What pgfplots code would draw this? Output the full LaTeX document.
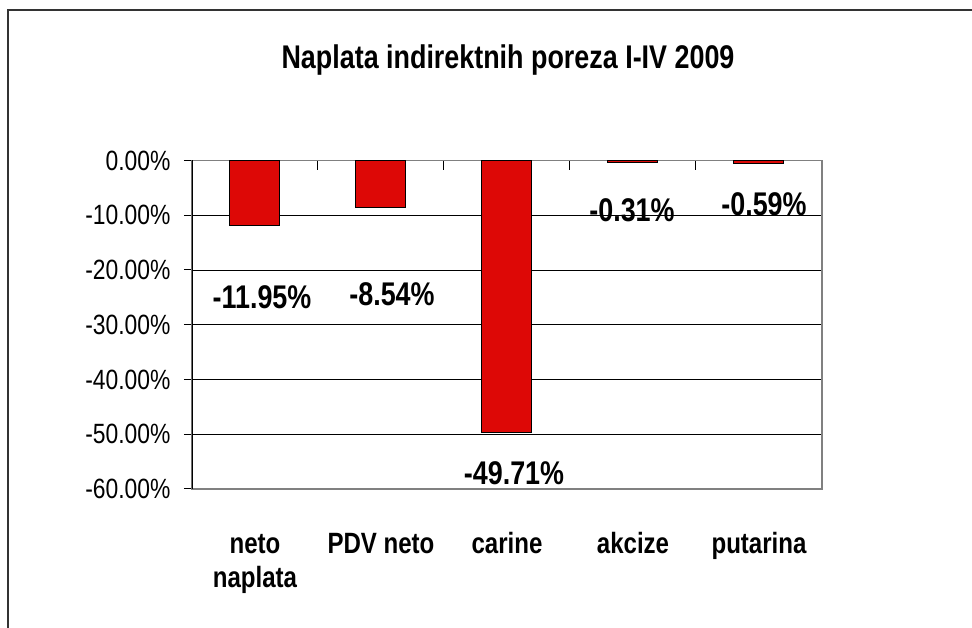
\documentclass[border=0pt]{standalone}
\usepackage{fontspec}
\setmainfont{Liberation Sans}[FakeStretch=0.82]
\usepackage{pgfplots}
\usepackage{pgfplotstable}
\pgfplotsset{compat=1.18}

\definecolor{barred}{RGB}{221,8,6}
\definecolor{framegray}{RGB}{128,128,128}

% change in %, with label offsets (px) from the bar end
\pgfplotstableread{
x y dx dy
0 -11.95 7 -70
1 -8.54 11 -85
2 -49.71 7 -39
3 -0.31 -1 -46
4 -0.59 5 -39
}\naplata

\begin{document}
\begin{tikzpicture}
\useasboundingbox (0,0) rectangle (729pt,471pt);
\draw[line width=1.5pt, black!80] (6pt,-10pt) -- (6pt,463.5pt) -- (745pt,463.5pt);
\node[anchor=base, inner sep=0pt, font=\fontsize{24.6}{29}\selectfont\bfseries]
  at (381pt,419.25pt) {Naplata indirektnih poreza I-IV 2009};
\begin{axis}[
  at={(144pt,104.25pt)}, anchor=south west,
  scale only axis, width=472.5pt, height=246.4pt,
  ybar, bar width=37.5pt,
  xmin=-0.5, xmax=4.5, ymin=-60, ymax=0,
  ytick={-60,-50,-40,-30,-20,-10,0},
  yticklabel={\pgfmathprintnumber[fixed,fixed zerofill,precision=2,assume math mode=true]{\tick}\%},
  yticklabel style={font=\fontsize{20.9}{25}\selectfont, inner sep=0pt, anchor=east, xshift=-10pt},
  xtick={0,1,2,3,4},
  xticklabels={{\strut neto\\naplata},{\strut PDV neto},{\strut carine},{\strut akcize},{\strut putarina}},
  xticklabel style={font=\fontsize{22}{26}\selectfont\bfseries, align=center, inner sep=0pt, anchor=north, yshift=-29.8pt},
  minor xtick={0.5,1.5,2.5,3.5},
  xtick pos=right, xticklabel pos=left, ytick pos=left,
  xtick align=inside, ytick align=outside,
  major tick length=6pt, minor tick length=7.5pt,
  major x tick style={draw=none},
  minor x tick style={black, line width=0.75pt},
  ytick style={black, line width=0.75pt},
  ymajorgrids, major grid style={black, line width=0.6pt},
  axis line style={framegray, line width=1pt},
]
\addplot[fill=barred, draw=black, line width=0.75pt,
  visualization depends on={\thisrow{dx} \as \dx},
  visualization depends on={\thisrow{dy} \as \dy},
  nodes near coords={\makebox[0pt][c]{\smash{\raisebox{-0.36em}{\pgfmathprintnumber[fixed,fixed zerofill,precision=2,assume math mode=true]{\pgfplotspointmeta}\%}}}},
  nodes near coords style={inner sep=0pt, font=\fontsize{24.6}{29}\selectfont\bfseries, xshift={\dx*0.75pt}, yshift={\dy*0.75pt}},
] table[x=x, y=y] {\naplata};
\draw[black, line width=0.9pt] (rel axis cs:0,0) -- (rel axis cs:0,1);
\end{axis}
\end{tikzpicture}
\end{document}
